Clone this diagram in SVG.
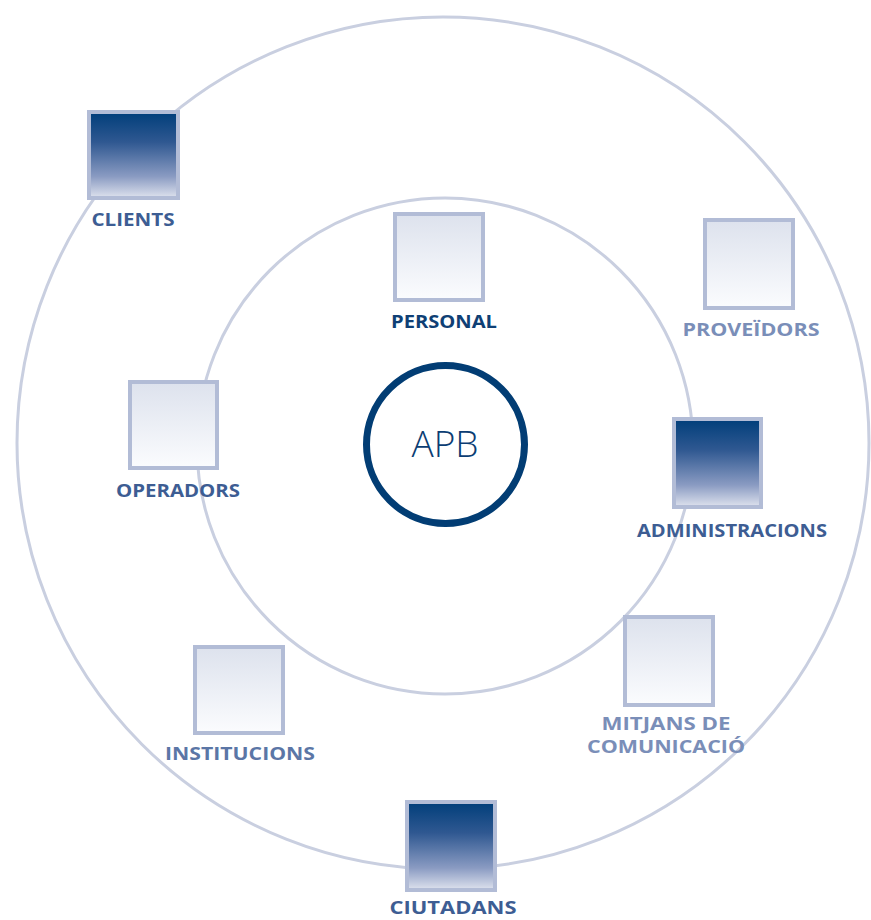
<svg xmlns="http://www.w3.org/2000/svg" width="871" height="920" viewBox="0 0 871 920">
<style>
.ring{fill:none;stroke:#c9cfe0;stroke-width:3}
.box{stroke:#b2bcd6;stroke-width:4}
.lbl{font-family:"Open Sans","Liberation Sans",sans-serif;font-weight:bold;font-size:18px;text-anchor:middle}
.c1{fill:#3d5d93}
.c2{fill:#5b76a6}
.c3{fill:#7a8eb8}
</style>
<defs>
<linearGradient id="dark" x1="0" y1="0" x2="0" y2="1">
<stop offset="0" stop-color="#003e7a"/>
<stop offset="0.35" stop-color="#2f5891"/>
<stop offset="0.75" stop-color="#8a9bc2"/>
<stop offset="1" stop-color="#dfe3ee"/>
</linearGradient>
<linearGradient id="light" x1="0" y1="0" x2="0" y2="1">
<stop offset="0" stop-color="#dde2ed"/>
<stop offset="1" stop-color="#fbfcfe"/>
</linearGradient>
</defs>
<rect width="871" height="920" fill="#fff"/>
<g id="rings">
<circle class="ring" cx="443" cy="443" r="426"/>
<circle class="ring" cx="445" cy="446" r="248"/>
</g>
<g id="apb">
<circle cx="445.5" cy="444.5" r="79" fill="#fff" stroke="#023d74" stroke-width="7"/>
<text x="445" y="457" font-family="'Open Sans','Liberation Sans',sans-serif" font-size="37" fill="#0b3d73" text-anchor="middle" font-weight="300">APB</text>
</g>
<g id="clients">
<rect class="box" x="89" y="112" width="89" height="86" fill="url(#dark)"/>
<text class="lbl c1" x="133" y="226" textLength="83" lengthAdjust="spacingAndGlyphs">CLIENTS</text>
</g>
<g id="personal">
<rect class="box" x="395" y="214" width="88" height="86" fill="url(#light)"/>
<text class="lbl" x="444" y="328" fill="#0f3f75" textLength="106" lengthAdjust="spacingAndGlyphs">PERSONAL</text>
</g>
<g id="proveidors">
<rect class="box" x="705" y="220" width="88" height="88" fill="url(#light)"/>
<text class="lbl c3" x="751" y="336" textLength="137" lengthAdjust="spacingAndGlyphs">PROVEÏDORS</text>
</g>
<g id="operadors">
<rect class="box" x="130" y="382" width="87" height="86" fill="url(#light)"/>
<text class="lbl c1" x="178" y="497" textLength="124" lengthAdjust="spacingAndGlyphs">OPERADORS</text>
</g>
<g id="administracions">
<rect class="box" x="674" y="419" width="87" height="88" fill="url(#dark)"/>
<text class="lbl c1" x="732" y="537" textLength="190" lengthAdjust="spacingAndGlyphs">ADMINISTRACIONS</text>
</g>
<g id="mitjans">
<rect class="box" x="625" y="617" width="88" height="88" fill="url(#light)"/>
<text class="lbl c3" x="666" y="730" textLength="129" lengthAdjust="spacingAndGlyphs">MITJANS DE</text>
<text class="lbl c3" x="666" y="753" textLength="158" lengthAdjust="spacingAndGlyphs">COMUNICACIÓ</text>
</g>
<g id="institucions">
<rect class="box" x="195" y="647" width="88" height="86" fill="url(#light)"/>
<text class="lbl c2" x="240" y="760" textLength="150" lengthAdjust="spacingAndGlyphs">INSTITUCIONS</text>
</g>
<g id="ciutadans">
<rect class="box" x="407" y="802" width="88" height="88" fill="url(#dark)"/>
<text class="lbl c1" x="453" y="914" textLength="127" lengthAdjust="spacingAndGlyphs">CIUTADANS</text>
</g>
</svg>
